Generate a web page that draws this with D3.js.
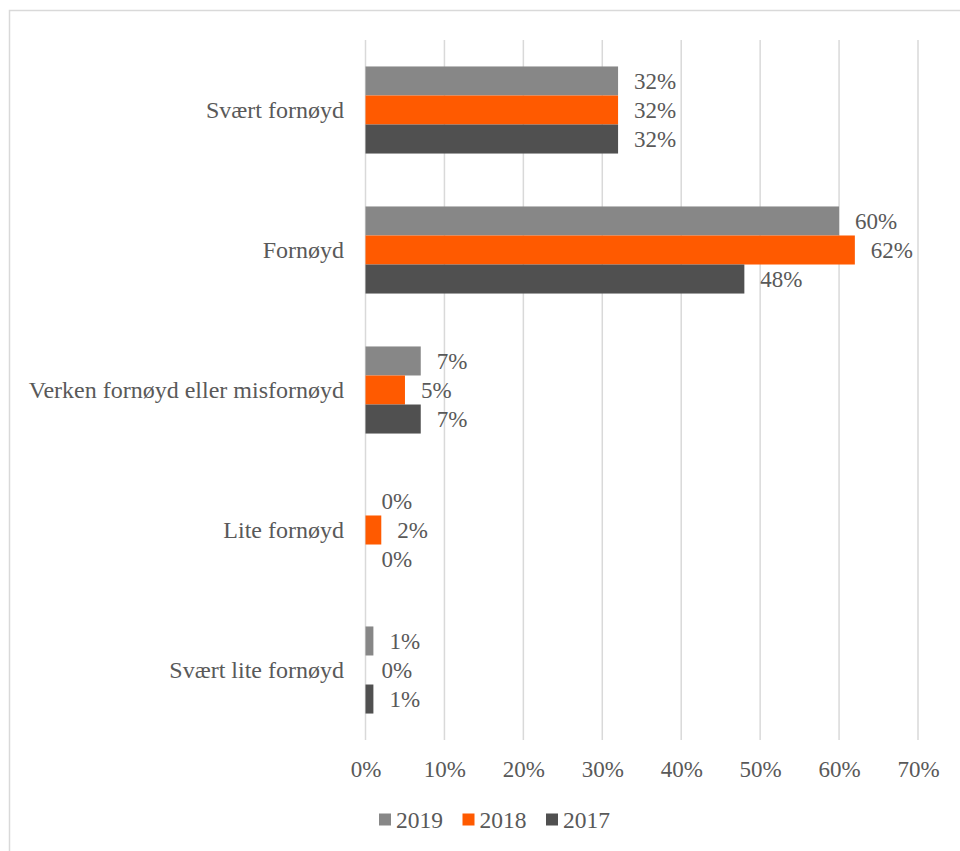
<!DOCTYPE html>
<html>
<head>
<meta charset="utf-8">
<script src="https://cdn.jsdelivr.net/npm/d3@7"></script>
<style>
  html, body { margin: 0; padding: 0; background: #fff; }
  svg { display: block; }
</style>
</head>
<body>
<svg id="chart" width="960" height="851"></svg>
<script>
// Survey answers, one group of bars per category
const categories = [
  "Svært fornøyd",
  "Fornøyd",
  "Verken fornøyd eller misfornøyd",
  "Lite fornøyd",
  "Svært lite fornøyd"
];
const years = ["2019", "2018", "2017"];
const values2019 = [32, 60, 7, 0, 1];
const values2018 = [32, 62, 5, 2, 0];
const values2017 = [32, 48, 7, 0, 1];
const tickValues = [0, 10, 20, 30, 40, 50, 60, 70];
const colors = ["#878787", "#ff5a00", "#505050"];

const seriesValues = [values2019, values2018, values2017];
const rows = categories.map((c, i) => ({
  category: c,
  bars: years.map((y, j) => ({ year: y, value: seriesValues[j][i] }))
}));

const FONT = "'Liberation Serif', 'Times New Roman', serif";
const TEXT_COLOR = "#595959";
const fontSize = 23;

const svg = d3.select("#chart");

function styleText(sel, size) {
  return sel.style("font-family", FONT)
    .style("font-size", size + "px")
    .style("fill", TEXT_COLOR);
}

// outer frame
svg.append("rect")
  .attr("x", 9.5).attr("y", 10.5)
  .attr("width", 1000).attr("height", 1000)
  .attr("fill", "none").attr("stroke", "#d9d9d9").attr("stroke-width", 1.5);

const x = d3.scaleLinear().domain([0, 70]).range([365.5, 918]);
const y0 = d3.scaleBand().domain(categories).range([40, 740]).paddingInner(0.378).paddingOuter(0.189);
const y1 = d3.scaleBand().domain(years).range([0, y0.bandwidth()]);

// vertical gridlines
svg.append("g")
  .selectAll("line")
  .data(tickValues)
  .join("line")
  .attr("x1", d => x(d)).attr("x2", d => x(d))
  .attr("y1", 40).attr("y2", 740)
  .attr("stroke", "#d9d9d9").attr("stroke-width", 1.5);

// x axis tick labels
const xAxis = d3.axisBottom(x).tickValues(tickValues).tickFormat(d => d + "%").tickSize(0).tickPadding(0);
const gx = svg.append("g").attr("transform", "translate(0,777)").call(xAxis);
gx.attr("font-family", null).attr("font-size", null);
gx.select(".domain").remove();
styleText(gx.selectAll("text").attr("dy", 0).attr("y", 0), fontSize);

// category labels
styleText(svg.append("g")
  .selectAll("text")
  .data(categories)
  .join("text")
  .attr("x", 344)
  .attr("y", d => y0(d) + y0.bandwidth() / 2)
  .attr("dy", "0.33em")
  .attr("text-anchor", "end")
  .text(d => d), 24);

// bars
const groups = svg.append("g")
  .selectAll("g")
  .data(rows)
  .join("g")
  .attr("transform", d => `translate(0,${y0(d.category)})`);

groups.selectAll("rect")
  .data(d => d.bars)
  .join("rect")
  .attr("x", x(0))
  .attr("y", d => y1(d.year))
  .attr("width", d => x(d.value) - x(0))
  .attr("height", y1.bandwidth())
  .attr("fill", (d, i) => colors[i]);

// value labels
styleText(groups.selectAll("text")
  .data(d => d.bars)
  .join("text")
  .attr("x", d => x(d.value) + 16)
  .attr("y", d => y1(d.year) + y1.bandwidth() / 2)
  .attr("dy", "0.35em")
  .text(d => d.value + "%"), fontSize);

// legend
const legend = svg.append("g");
let lx = 379;
years.forEach((yr, i) => {
  legend.append("rect")
    .attr("x", lx).attr("y", 813.5)
    .attr("width", 12).attr("height", 12)
    .attr("fill", colors[i]);
  const t = styleText(legend.append("text")
    .attr("x", lx + 17).attr("y", 828)
    .text(yr), 23.5);
  lx += 17 + t.node().getComputedTextLength() + 19.5;
});
</script>
</body>
</html>
